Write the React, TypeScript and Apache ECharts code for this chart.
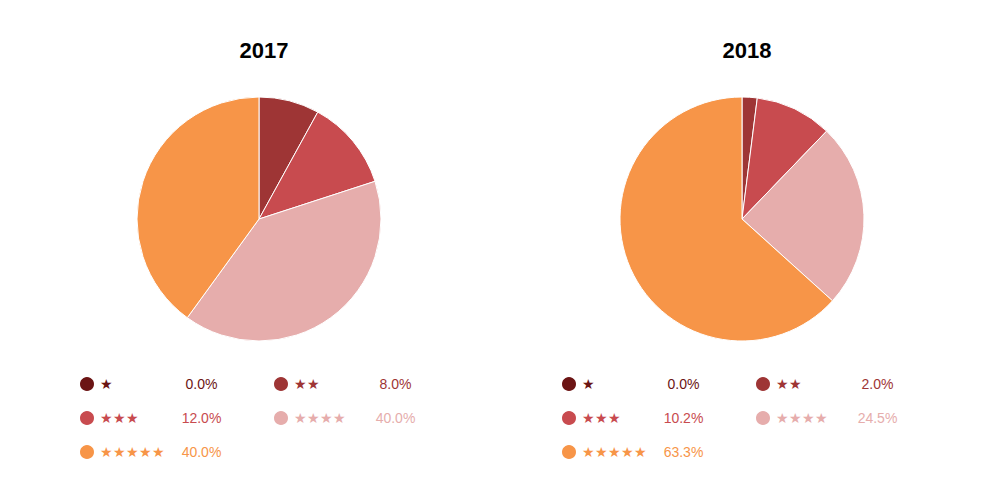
import React, { useEffect, useRef } from "react";
import * as echarts from "echarts";

const categories = ["★", "★★", "★★★", "★★★★", "★★★★★"];
const colors = ["#6b1414", "#9e3535", "#c84b4f", "#e6adac", "#f79548"];
const values2017 = [0, 8, 12, 40, 40];
const values2018 = [0, 2, 10.2, 24.5, 63.3];
const years = ["2017", "2018"];

export default function App() {
  const ref = useRef<HTMLDivElement>(null);
  useEffect(() => {
    const chart = echarts.init(ref.current!, null, { renderer: "svg" });
    const sets = [values2017, values2018];
    const centers = [251, 734];
    const mkLegend = (vals: number[], left: number) => ({
      left,
      top: 362,
      width: 460,
      itemWidth: 16,
      itemHeight: 16,
      itemGap: 16,
      icon: "circle",
      selectedMode: false,
      data: categories.map((c, j) => ({
        name: c,
        textStyle: {
          color: colors[j],
          rich: {
            n: { width: 80, fontSize: 14, lineHeight: 16, color: colors[j] },
            p: { width: 43, align: "right", fontSize: 14, lineHeight: 16, color: colors[j] },
            s: { width: 66 },
          },
        },
      })),
      textStyle: {
        fontFamily: "Liberation Sans",
        fontSize: 14,
      },
      formatter: (name: string) => {
        const v = vals[categories.indexOf(name)];
        return `{n|${name}}{p|${v.toFixed(1)}%}{s|}`;
      },
    });
    chart.setOption({
      animation: false,
      color: colors,
      title: years.map((y, i) => ({
        text: y,
        left: centers[i],
        textAlign: "center",
        top: 26,
        textStyle: { fontFamily: "Liberation Sans", fontSize: 22, fontWeight: "bold", color: "#000" },
      })),
      legend: [mkLegend(values2017, 65), mkLegend(values2018, 547)],
      series: sets.map((vals, i) => ({
        type: "pie",
        center: [centers[i], 211],
        radius: [0, 122],
        startAngle: 90,
        clockwise: true,
        label: { show: false },
        labelLine: { show: false },
        emphasis: { disabled: true },
        itemStyle: { borderColor: "#fff", borderWidth: 1 },
        data: categories.map((c, j) => ({ name: c, value: vals[j] })),
      })),
    });
    return () => chart.dispose();
  }, []);
  return <div ref={ref} style={{ width: 984, height: 484 }} />;
}
